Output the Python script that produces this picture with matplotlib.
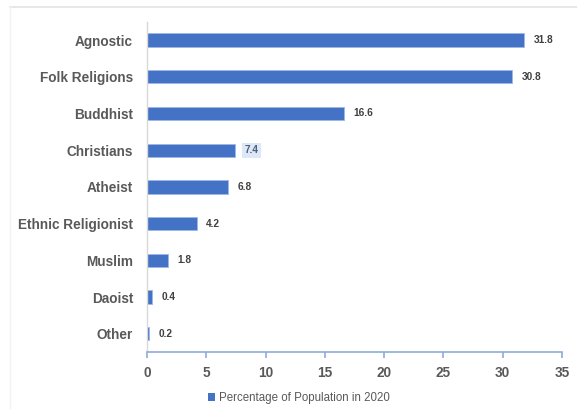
import matplotlib.pyplot as plt
from matplotlib.lines import Line2D
from matplotlib.patches import Patch

categories = ['Agnostic', 'Folk Religions', 'Buddhist', 'Christians', 'Atheist',
              'Ethnic Religionist', 'Muslim', 'Daoist', 'Other']
values = [31.8, 30.8, 16.6, 7.4, 6.8, 4.2, 1.8, 0.4, 0.2]
xticks = [0, 5, 10, 15, 20, 25, 30, 35]
series_name = 'Percentage of Population in 2020'

bar_color = '#4472C4'
text_color = '#595959'

fig = plt.figure(figsize=(5.77, 4.09), dpi=100)
ax = fig.add_axes([0.2548, 0.139, 0.7192, 0.808])

ypos = list(range(len(categories)))[::-1]
ax.barh(ypos, values, height=0.36, color=bar_color, edgecolor='#9DB9E8', linewidth=0.6)

for y, v, name in zip(ypos, values, categories):
    kw = dict(fontsize=7.3, fontweight='bold', color='#404040', va='center', ha='left',
              family='Liberation Sans')
    if name == 'Christians':
        kw['bbox'] = dict(boxstyle='square,pad=0.25', facecolor='#DCE8F8', edgecolor='none')
        kw['color'] = '#4F607A'
    ax.text(v + 0.8, y, f'{v}', **kw)

ax.set_xlim(0, 35)
ax.set_ylim(-0.5, len(categories) - 0.5)
ax.set_yticks(ypos)
ax.set_yticklabels(categories, fontsize=9.8, fontweight='bold', color=text_color,
                   family='Liberation Sans')
ax.set_xticks(xticks)
ax.set_xticklabels([str(t) for t in xticks], fontsize=9.8, fontweight='bold',
                   color=text_color, family='Liberation Sans')

for s in ['top', 'right']:
    ax.spines[s].set_visible(False)
ax.spines['left'].set_color('#D9D9D9')
ax.spines['left'].set_linewidth(1.0)
ax.spines['bottom'].set_color('#8FAADC')
ax.spines['bottom'].set_linewidth(1.2)
ax.tick_params(axis='y', length=0, pad=10)
ax.tick_params(axis='x', length=4, width=1.2, color='#8FAADC', pad=6)

handle = Patch(facecolor=bar_color, edgecolor='none')
fig.legend([handle], [series_name], loc='center', bbox_to_anchor=(0.518, 0.027),
           frameon=False, handlelength=0.6, handleheight=0.6,
           handletextpad=0.3, labelcolor=text_color, prop={'family': 'Liberation Sans', 'size': 8.3})

# outer chart frame
fig.add_artist(Line2D([10 / 577, 1], [1 - 7 / 409, 1 - 7 / 409], color='#E3E3E3', lw=1.2,
                      transform=fig.transFigure))
fig.add_artist(Line2D([10 / 577, 10 / 577], [0, 1 - 7 / 409], color='#F2F2F2', lw=1.0,
                      transform=fig.transFigure))

fig.savefig('out.png', dpi=100)
